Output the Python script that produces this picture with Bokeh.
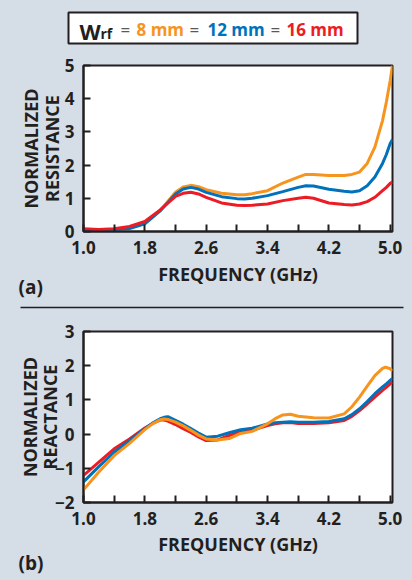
from bokeh.plotting import figure
from bokeh.models import FixedTicker, Range1d
from bokeh.layouts import column
from bokeh.core.properties import value
from bokeh.embed import file_html
from bokeh.resources import INLINE

# ---- data ----
freq_res = [1.0, 1.2, 1.4, 1.6, 1.8, 2.0, 2.2, 2.3, 2.4, 2.5, 2.6, 2.8, 3.0, 3.1, 3.2, 3.4, 3.6,
            3.8, 3.9, 4.0, 4.2, 4.4, 4.5, 4.6, 4.7, 4.8, 4.9, 4.95, 5.0, 5.03]
res_8mm = [0.05, 0.04, 0.05, 0.10, 0.25, 0.63, 1.18, 1.34, 1.39, 1.35, 1.26, 1.15, 1.11, 1.11, 1.14,
           1.23, 1.46, 1.64, 1.72, 1.72, 1.69, 1.69, 1.72, 1.79, 2.05, 2.54, 3.34, 3.90, 4.55, 5.0]
res_12mm = [0.05, 0.04, 0.05, 0.09, 0.23, 0.62, 1.13, 1.28, 1.33, 1.28, 1.18, 1.05, 0.99, 0.98, 1.00,
            1.08, 1.20, 1.33, 1.38, 1.37, 1.27, 1.21, 1.19, 1.23, 1.38, 1.64, 2.05, 2.32, 2.65, 2.77]
res_16mm = [0.08, 0.06, 0.08, 0.15, 0.30, 0.65, 1.06, 1.15, 1.18, 1.13, 1.03, 0.86, 0.79, 0.78, 0.79,
            0.83, 0.93, 1.00, 1.03, 1.00, 0.86, 0.81, 0.80, 0.83, 0.90, 1.03, 1.23, 1.33, 1.45, 1.49]

freq_rea = [1.0, 1.2, 1.4, 1.6, 1.8, 1.9, 2.0, 2.05, 2.1, 2.2, 2.3, 2.4, 2.5, 2.6, 2.75, 2.9, 3.05,
            3.2, 3.4, 3.5, 3.6, 3.7, 3.8, 4.0, 4.2, 4.4, 4.5, 4.6, 4.7, 4.8, 4.9, 4.94, 5.0, 5.03]
rea_8mm = [-1.63, -1.11, -0.63, -0.27, 0.13, 0.30, 0.42, 0.44, 0.43, 0.35, 0.24, 0.11, -0.03, -0.14,
           -0.17, -0.13, 0.02, 0.08, 0.30, 0.45, 0.56, 0.58, 0.52, 0.48, 0.47, 0.59, 0.80, 1.08,
           1.40, 1.71, 1.92, 1.96, 1.91, 1.85]
rea_12mm = [-1.40, -0.95, -0.53, -0.19, 0.16, 0.32, 0.45, 0.49, 0.51, 0.40, 0.29, 0.16, 0.03, -0.09,
            -0.06, 0.04, 0.13, 0.17, 0.30, 0.33, 0.35, 0.36, 0.35, 0.35, 0.37, 0.45, 0.57, 0.74,
            0.95, 1.18, 1.38, 1.45, 1.57, 1.63]
rea_16mm = [-1.21, -0.82, -0.43, -0.14, 0.18, 0.31, 0.41, 0.41, 0.38, 0.28, 0.16, 0.05, -0.08, -0.19,
            -0.17, -0.04, 0.06, 0.11, 0.25, 0.30, 0.33, 0.34, 0.31, 0.31, 0.33, 0.40, 0.52, 0.69,
            0.88, 1.08, 1.28, 1.35, 1.47, 1.52]

freq_ticks = [1.0, 1.8, 2.6, 3.4, 4.2, 5.0]
freq_minor = [1.4, 2.2, 3.0, 3.8, 4.6]
res_ticks = [0, 1, 2, 3, 4, 5]
rea_ticks = [-2, -1, 0, 1, 2, 3]
series_names = ["8 mm", "12 mm", "16 mm"]
series_colors = ["#f7941d", "#0072bc", "#ed1c24"]

BG = "#d5dde6"
INK = "#231f20"
GREY = "#58595b"
FONT = "Open Sans"
W = 412
DY = 6  # text glyph baseline correction


def style(p, yticks, ylabel, label_standoff):
    p.outline_line_color = INK
    p.outline_line_width = 2
    p.background_fill_color = "white"
    p.border_fill_color = BG
    p.xgrid.visible = False
    p.ygrid.visible = False
    p.xaxis.ticker = FixedTicker(ticks=freq_ticks, minor_ticks=freq_minor)
    p.yaxis.ticker = FixedTicker(ticks=yticks)
    p.yaxis.major_label_overrides = {t: (str(t) if t >= 0 else "\u2212" + str(-t)) for t in yticks}
    p.xaxis.major_label_overrides = {t: "%.1f" % t for t in freq_ticks}
    for ax in (p.xaxis, p.yaxis):
        ax.axis_line_color = INK
        ax.axis_line_width = 2
        ax.major_tick_in = 7
        ax.major_tick_out = 0
        ax.minor_tick_in = 7
        ax.minor_tick_out = 0
        ax.major_tick_line_color = INK
        ax.major_tick_line_width = 2
        ax.minor_tick_line_color = INK
        ax.minor_tick_line_width = 2
        ax.major_label_text_font = FONT
        ax.major_label_text_font_style = "bold"
        ax.major_label_text_font_size = "17px"
        ax.major_label_text_color = INK
        ax.axis_label_text_font = FONT
        ax.axis_label_text_font_style = "bold"
        ax.axis_label_text_font_size = "18px"
        ax.axis_label_text_color = INK
    p.yaxis.minor_tick_in = 0
    p.xaxis.major_label_standoff = 9
    p.yaxis.axis_label = ylabel
    p.yaxis.major_label_standoff = 9
    p.yaxis.axis_label_standoff = label_standoff
    p.yaxis.axis_label_text_line_height = 0.85


def strip(height):
    s = figure(width=W, height=height, output_backend="svg", toolbar_location=None,
               x_range=Range1d(0, W), y_range=Range1d(height, 0),
               x_axis_type=None, y_axis_type=None, min_border=0, frame_align=False)
    s.grid.visible = False
    s.outline_line_color = None
    s.background_fill_color = BG
    s.border_fill_color = BG
    return s


def txt(s, x, y, t, size, color, style="bold", align="left"):
    s.text(x=[x], y=[y - DY], text=[t], text_font=value(FONT), text_font_style=style,
           text_font_size=size, text_color=color, text_align=align, text_baseline="alphabetic")


# ---------- legend strip (page y 0..50) ----------
s0 = strip(50)
s0.rect(x=[212.5], y=[27.5], width=289, height=31, fill_color="white",
        line_color=INK, line_width=2)
txt(s0, 79, 36, "W", "22px", INK)
txt(s0, 100, 38.5, "rf", "14px", INK)
txt(s0, 120, 35, "=", "17px", GREY, style="normal")
txt(s0, 136, 35, series_names[0], "17px", series_colors[0])
txt(s0, 189, 35, "=", "17px", GREY, style="normal")
txt(s0, 207, 35, series_names[1], "17px", series_colors[1])
txt(s0, 270, 35, "=", "17px", GREY, style="normal")
txt(s0, 286, 35, series_names[2], "17px", series_colors[2])

# ---------- top panel (page y 50..263) ----------
p1 = figure(width=W, height=213, output_backend="svg", toolbar_location=None,
            x_range=Range1d(1.0, 5.03), y_range=Range1d(0, 5), frame_align=False,
            min_border_left=83, min_border_right=20, min_border_top=15, min_border_bottom=32)
style(p1, res_ticks, "NORMALIZED\nRESISTANCE", -2)
for ys, c in zip([res_8mm, res_12mm, res_16mm], series_colors):
    p1.line(freq_res, ys, line_color=c, line_width=3)

# ---------- caption strip (page y 263..318) ----------
s1 = strip(55)
txt(s1, 237.5, 279 - 263, "FREQUENCY (GHz)", "18px", INK, align="center")
txt(s1, 18, 292 - 263, "(a)", "19px", INK)
s1.line(x=[20, 403], y=[307 - 263, 307 - 263], line_color=INK, line_width=1.5)

# ---------- bottom panel (page y 318..531) ----------
p2 = figure(width=W, height=213, output_backend="svg", toolbar_location=None,
            x_range=Range1d(1.0, 5.03), y_range=Range1d(-2, 3), frame_align=False,
            min_border_left=83, min_border_right=20, min_border_top=13, min_border_bottom=29)
style(p2, rea_ticks, "NORMALIZED\nREACTANCE", -10)
for ys, c in zip([rea_16mm, rea_12mm, rea_8mm], series_colors[::-1]):
    p2.line(freq_rea, ys, line_color=c, line_width=3)

# ---------- caption strip (page y 531..580) ----------
s2 = strip(49)
txt(s2, 237.5, 549 - 531, "FREQUENCY (GHz)", "18px", INK, align="center")
txt(s2, 18, 568 - 531, "(b)", "19px", INK)

layout = column(s0, p1, s1, p2, s2, spacing=0)
html = file_html(layout, INLINE)
html = html.replace("<head>", "<head><style>html,body{margin:0;padding:0;background:%s;overflow:hidden;}</style>" % BG, 1)
open("out.html", "w").write(html)
